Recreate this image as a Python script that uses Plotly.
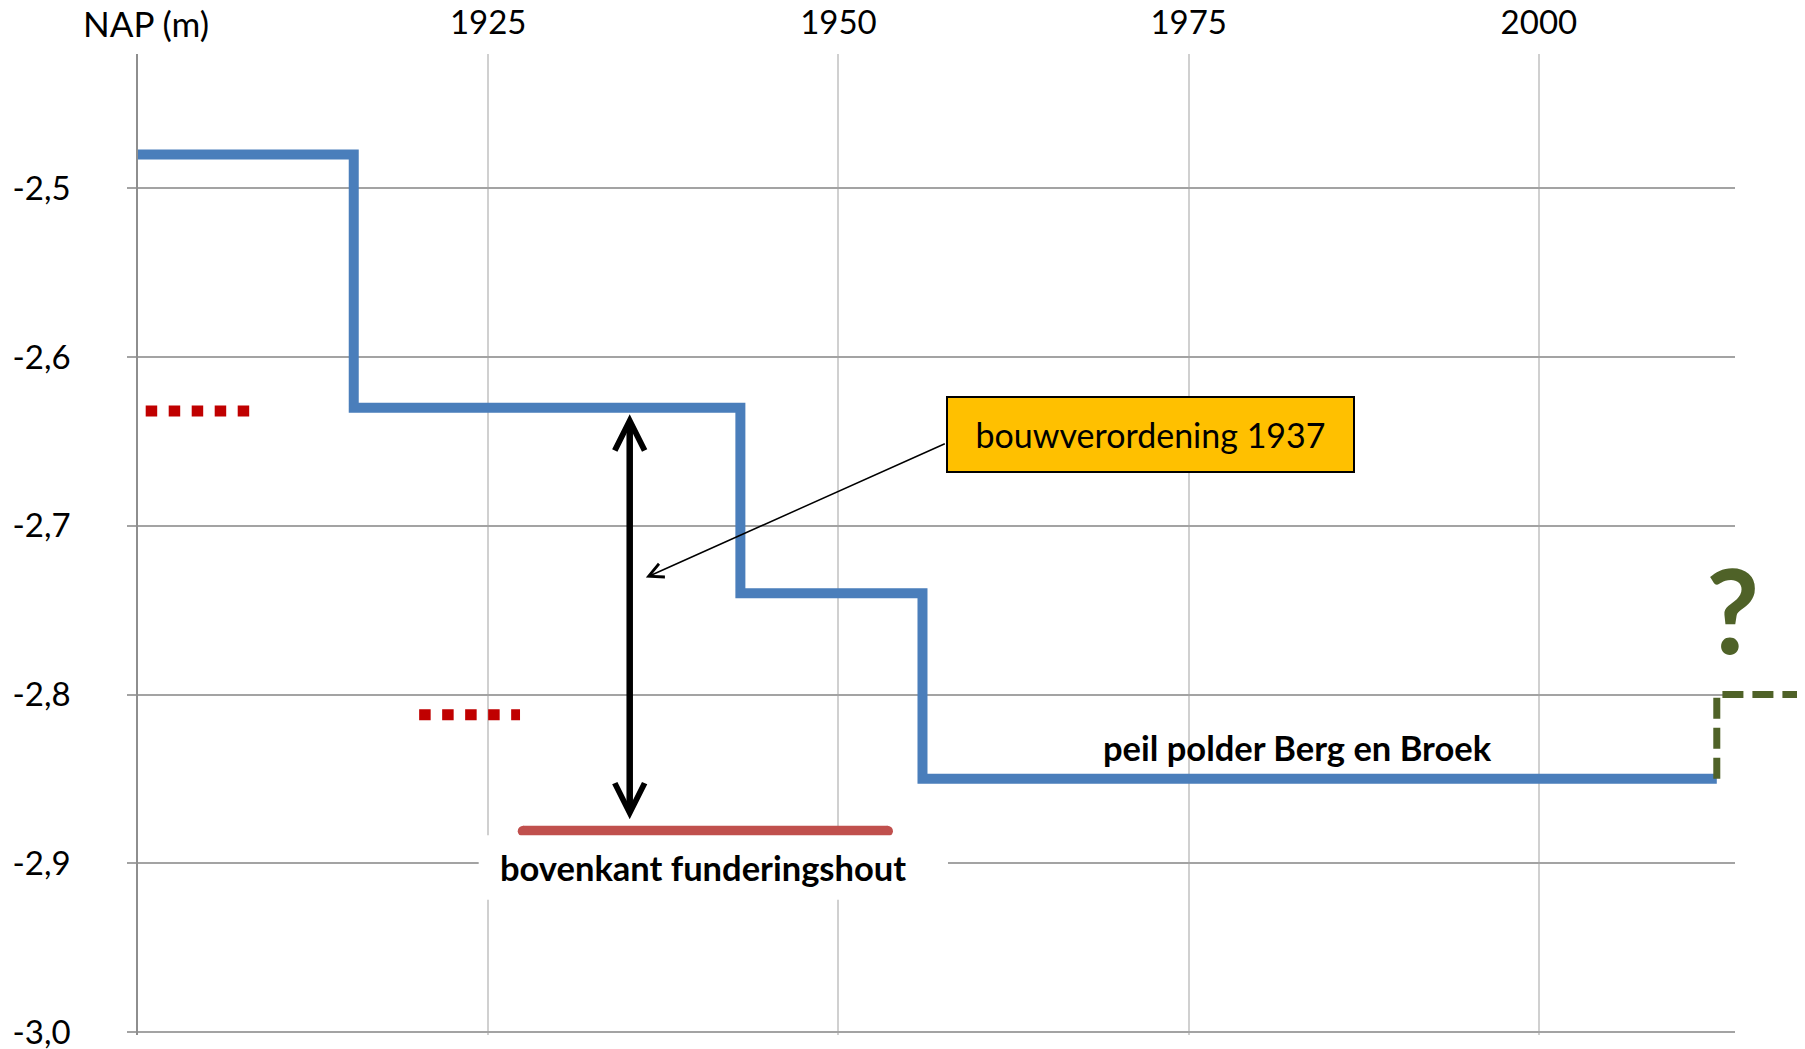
import plotly.graph_objects as go

# ---------------- data ----------------
year_ticks = [1925, 1950, 1975, 2000]
year_ticklabels = ["1925", "1950", "1975", "2000"]
nap_ticks = [-3.0, -2.9, -2.8, -2.7, -2.6, -2.5]
nap_ticklabels = ["-3,0", "-2,9", "-2,8", "-2,7", "-2,6", "-2,5"]

# peil polder Berg en Broek (stepwise)
peil_years = [1900, 1915.4, 1943.0, 1956.0, 2012.7]
peil_levels = [-2.48, -2.63, -2.74, -2.85, -2.85]

# uncertain future level (?)
future_years = [2012.7, 2018.5]
future_levels = [-2.85, -2.80]

# red dotted levels
dots1_years = [1900.55, 1908.0]
dots1_levels = [-2.632, -2.632]
dots2_years = [1920.07, 1927.27]
dots2_levels = [-2.812, -2.812]

# bovenkant funderingshout
hout_years = [1927.5, 1953.5]
hout_levels = [-2.881, -2.881]

# double arrow (bouwverordening 1937)
arrow_year = 1935.1
arrow_top = -2.633
arrow_bottom = -2.874

# pointer arrow from the label box
pointer_from = (1957.7, -2.651)
pointer_to = (1936.25, -2.7307)

X_RANGE = [1900, 2014]
Y_RANGE = [-3.0018, -2.4204]

# ---------------- styling ----------------
FONT = "Lato, 'Open Sans', Arial, sans-serif"
BLUE = "#4A7EBB"
RED_DOTS = "#C00000"
RED_BAR = "#C0504D"
GREEN = "#4F6228"
HGRID = "#A3A3A3"
VGRID = "#D0D0D0"

# page body adds an 8px offset; compensate in figure size and margins
W, H = 1797, 1041
M_L, M_R, M_T, M_B = 130, 0, 46, 14
plot_w = W - M_L - M_R
d1 = (1727 - M_L) / plot_w
x2_end = X_RANGE[0] + (X_RANGE[1] - X_RANGE[0]) / d1

fig = go.Figure()

fig.add_trace(go.Scatter(x=dots1_years, y=dots1_levels, mode="lines",
                         line=dict(color=RED_DOTS, width=11, dash="11.5px,11.5px"),
                         hoverinfo="skip"))
fig.add_trace(go.Scatter(x=dots2_years, y=dots2_levels, mode="lines",
                         line=dict(color=RED_DOTS, width=11, dash="11.5px,11.5px"),
                         hoverinfo="skip"))
fig.add_trace(go.Scatter(x=hout_years, y=hout_levels, mode="lines+markers",
                         line=dict(color=RED_BAR, width=11),
                         marker=dict(color=RED_BAR, size=11),
                         hoverinfo="skip"))
fig.add_trace(go.Scatter(x=peil_years, y=peil_levels, mode="lines",
                         line=dict(color=BLUE, width=10, shape="hv"),
                         hoverinfo="skip"))
fig.add_trace(go.Scatter(x=future_years, y=future_levels, mode="lines",
                         xaxis="x2", yaxis="y2",
                         line=dict(color=GREEN, width=7, shape="vh", dash="21px,9px"),
                         hoverinfo="skip"))

# white background behind the "bovenkant funderingshout" label
fig.add_shape(type="rect", xref="x", yref="y", x0=1924.32, x1=1957.82,
              y0=-2.9216, y1=-2.8834, fillcolor="white", line=dict(width=0),
              layer="above")

annotations = [
    dict(x=X_RANGE[0], y=1, xref="x", yref="paper", text="NAP (m)", showarrow=False,
         xanchor="center", yanchor="middle", xshift=8, yshift=31,
         font=dict(family=FONT, size=35, color="black")),
    dict(x=arrow_year, y=arrow_bottom, ax=arrow_year, ay=arrow_top,
         xref="x", yref="y", axref="x", ayref="y", text="", showarrow=True,
         arrowside="end+start", arrowhead=5, startarrowhead=5,
         arrowsize=0.9, startarrowsize=0.9, arrowwidth=6.5, arrowcolor="black"),
    dict(x=pointer_to[0], y=pointer_to[1], ax=pointer_from[0], ay=pointer_from[1],
         xref="x", yref="y", axref="x", ayref="y", text="", showarrow=True,
         arrowhead=5, arrowsize=1.9, arrowwidth=1.5, arrowcolor="black"),
    dict(x=1972.29, y=-2.6459, xref="x", yref="y", text="bouwverordening 1937",
         showarrow=False, bgcolor="#FFC000", bordercolor="black", borderwidth=2,
         borderpad=4, width=397, height=65, align="center", valign="middle",
         font=dict(family=FONT, size=34, color="black")),
    dict(x=1940.34, y=-2.9024, xref="x", yref="y",
         text="<b>bovenkant funderingshout</b>", showarrow=False,
         font=dict(family=FONT, size=34.5, color="black")),
    dict(x=1982.75, y=-2.8316, xref="x", yref="y",
         text="<b>peil polder Berg en Broek</b>", showarrow=False,
         font=dict(family=FONT, size=34.5, color="black")),
    dict(x=2013.85, y=-2.7495, xref="x2", yref="y2", text="<b>?</b>", showarrow=False,
         font=dict(family=FONT, size=116, color=GREEN)),
]

fig.update_layout(
    width=W, height=H,
    margin=dict(l=M_L, r=M_R, t=M_T, b=M_B, autoexpand=False),
    paper_bgcolor="white",
    plot_bgcolor="rgba(0,0,0,0)",
    showlegend=False,
    font=dict(family=FONT, size=33, color="black"),
    xaxis=dict(domain=[0, d1], range=X_RANGE, side="top",
               tickvals=year_ticks, ticktext=year_ticklabels,
               showgrid=True, gridcolor=VGRID, gridwidth=1.5,
               showline=False, zeroline=False, ticks="", ticklabelstandoff=12,
               tickfont=dict(family=FONT, size=33, color="black"),
               ticklabeloverflow="allow",
               fixedrange=True, automargin=False),
    yaxis=dict(domain=[0, 1], range=Y_RANGE, tickvals=nap_ticks, ticktext=nap_ticklabels,
               showgrid=True, gridcolor=HGRID, gridwidth=1.5,
               showline=True, linecolor="#8E8E8E", linewidth=1.5,
               ticks="outside", ticklen=9, tickcolor=HGRID, tickwidth=1.5,
               zeroline=False, ticklabelstandoff=50, ticklabeloverflow="allow",
               tickfont=dict(family=FONT, size=33, color="black"),
               fixedrange=True, automargin=False),
    xaxis2=dict(domain=[0, 1], range=[X_RANGE[0], x2_end], anchor="y2",
                visible=False, showgrid=False, zeroline=False, fixedrange=True),
    yaxis2=dict(domain=[0, 1], range=Y_RANGE, anchor="x2",
                visible=False, showgrid=False, zeroline=False, fixedrange=True),
    annotations=annotations,
)

fig.write_html("out.html")
